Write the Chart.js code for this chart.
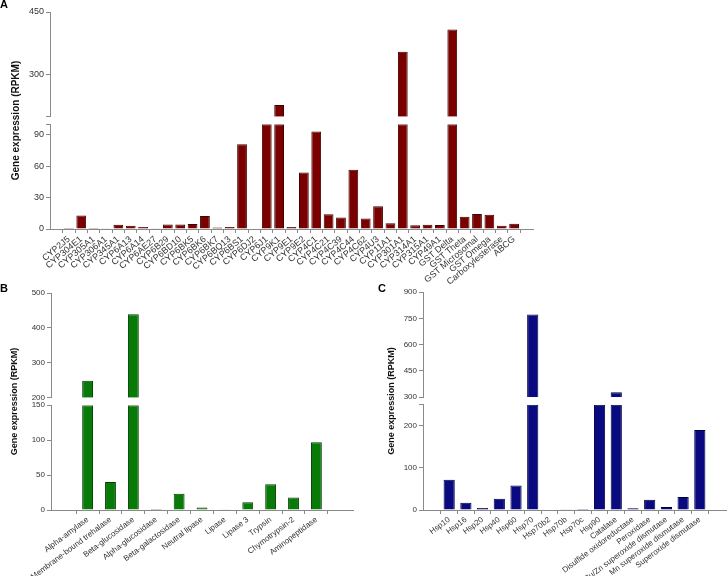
<!DOCTYPE html>
<html>
<head>
<meta charset="utf-8">
<script src="https://cdn.jsdelivr.net/npm/chart.js@4.4.1/dist/chart.umd.min.js"></script>
<style>
  html, body { margin: 0; padding: 0; background: #fff; }
  #lienzo { position: relative; width: 728px; height: 576px; overflow: hidden; }
  .panel { position: absolute; }
  .letra { position: absolute; font: bold 11px "Liberation Sans", Arial, sans-serif; line-height: 11px; color: #000; }
</style>
</head>
<body>
<div id="lienzo">
  <div class="panel" style="left:0;top:0;width:728px;height:290px"><canvas id="graficoA"></canvas></div>
  <div class="panel" style="left:0;top:280px;width:364px;height:296px"><canvas id="graficoB"></canvas></div>
  <div class="panel" style="left:364px;top:280px;width:364px;height:296px"><canvas id="graficoC"></canvas></div>
  <div class="letra" style="left:0;top:-1px">A</div>
  <div class="letra" style="left:0;top:283px">B</div>
  <div class="letra" style="left:378px;top:283px">C</div>
</div>
<script>
// Datos del panel A
var categorias_a = ['CYP2J5', 'CYP304E1', 'CYP305A1', 'CYP306A1', 'CYP345A1', 'CYP6A13', 'CYP6A14', 'CYP6AE27',
  'CYP6B29', 'CYP6BD10', 'CYP6BK5', 'CYP6BK6', 'CYP6BK7', 'CYP6BQ13', 'CYP6BS1', 'CYP6DJ2', 'CYP6J1', 'CYP9K1',
  'CYP9E1', 'CYP9E2', 'CYP4C1', 'CYP4C21', 'CYP4C39', 'CYP4C44', 'CYP4C62', 'CYP4U3', 'CYP11A1', 'CYP301A1',
  'CYP314A1', 'CYP315A1', 'CYP49A1', 'GST Delta', 'GST Theta', 'GST Microsomal', 'GST Omega', 'Carboxylesterase', 'ABCG'];
var valores_a = [1, 13, 0.1, 0.7, 4, 3, 2, 0.7, 4.3, 4.3, 4.8, 12.4, 1.5, 1.8, 81, 0.5, 160, 228,
  2, 54, 93, 14, 11, 56.5, 10, 21.6, 5.4, 355, 3.5, 4, 3.8, 408, 11.7, 14.3, 13.7, 3.2, 5];
var ticks_bajo_a = [0, 30, 60, 90];
var ticks_alto_a = [300, 450];
var corte_a = [100, 200];
var maximo_a = 450;

// Datos del panel B
var categorias_b = ['Alpha-amylase', 'Membrane-bound trehalase', 'Beta-glucosidase', 'Alpha-glucosidase',
  'Beta-galactosidase', 'Neutral lipase', 'Lipase', 'Lipase 3', 'Trypsin', 'Chymotrypsin-2', 'Aminopeptidase'];
var valores_b = [249, 40, 439, 1.5, 23.3, 3.5, 0.2, 11, 37, 18, 97];
var ticks_bajo_b = [0, 50, 100, 150];
var ticks_alto_b = [200, 300, 400, 500];
var corte_b = [150, 200];
var maximo_b = 500;

// Datos del panel C
var categorias_c = ['Hsp10', 'Hsp16', 'Hsp20', 'Hsp40', 'Hsp60', 'Hsp70', 'Hsp70b2', 'Hsp70b', 'Hsp70c', 'Hsp90',
  'Catalase', 'Disulfide oxidoreductase', 'Peroxidase', 'Cu/Zn superoxide dismutase', 'Mn superoxide dismutase',
  'Superoxide dismutase'];
var valores_c = [72, 17.5, 4.7, 27, 58, 772, 1, 1.5, 2.5, 270, 328, 4, 24.6, 7, 31, 190];
var ticks_bajo_c = [0, 100, 200];
var ticks_alto_c = [300, 450, 600, 750, 900];
var corte_c = [250, 300];
var maximo_c = 900;

var fuente = '"Liberation Sans", Arial, sans-serif';
var gris = '#8a8a8a';
var texto = '#333';

// Lista de ticks con el valor del corte incluido (sin repetir)
function unir_ticks(lista, extra) {
  var todos = lista.indexOf(extra) === -1 ? lista.concat([extra]) : lista.slice();
  return todos.sort(function(a, b) { return a - b; }).map(function(v) { return {value: v}; });
}

// Eje y de un tramo (alto o bajo) del eje partido
function eje_tramo(min, max, etiquetas, extra, peso, orden, est) {
  return {
    type: 'linear', position: 'left', stack: 'eje', stackWeight: peso, weight: orden,
    min: min, max: max,
    afterBuildTicks: function(s) { s.ticks = unir_ticks(etiquetas, extra); },
    afterFit: function(s) { s.width = est.ancho_y; },
    ticks: {
      font: {family: fuente, size: est.letra_y}, color: texto, padding: 2,
      callback: function(v) { return etiquetas.indexOf(v) !== -1 ? v : ''; }
    },
    grid: {drawOnChartArea: false, tickLength: 4, color: gris},
    border: {color: gris}
  };
}

function crear_panel(id, categorias, valores, bajo, alto, corte, maximo, est) {
  var bajos = valores.map(function(v, i) { return {x: i, y: Math.min(v, corte[0])}; });
  var altos = valores.map(function(v, i) { return v > corte[1] ? {x: i, y: [corte[1], v]} : null; })
    .filter(function(p) { return p; });
  var comun = {
    grouped: false, backgroundColor: est.color, borderColor: est.borde, borderWidth: 1,
    barPercentage: est.barra, categoryPercentage: 1, xAxisID: 'x'
  };
  return new Chart(document.getElementById(id), {
    type: 'bar',
    data: {
      datasets: [
        Object.assign({data: bajos, yAxisID: 'yBajo'}, comun),
        Object.assign({data: altos, yAxisID: 'yAlto'}, comun)
      ]
    },
    options: {
      responsive: true,
      maintainAspectRatio: false,
      animation: false,
      layout: {padding: est.padding},
      plugins: {legend: {display: false}, tooltip: {enabled: false}},
      scales: {
        x: {
          type: 'linear', min: -1, max: categorias.length,
          afterBuildTicks: function(s) { s.ticks = categorias.map(function(c, i) { return {value: i}; }); },
          afterFit: function(s) { s.height = est.alto_x; },
          ticks: {
            autoSkip: false, minRotation: est.giro, maxRotation: est.giro, padding: 1,
            font: {family: fuente, size: est.letra_x}, color: texto,
            callback: function(v) { return categorias[v]; }
          },
          grid: {drawOnChartArea: false, tickLength: 4, color: gris},
          border: {color: gris}
        },
        yAlto: eje_tramo(corte[1], maximo, alto, corte[1], 14, 3, est),
        yHueco: {
          type: 'linear', position: 'left', stack: 'eje', stackWeight: 1, weight: 2,
          min: 0, max: 1,
          afterFit: function(s) { s.width = est.ancho_y; },
          ticks: {display: false},
          grid: {display: false},
          border: {display: false},
          title: {
            display: true, text: 'Gene expression (RPKM)', color: '#111', padding: 0,
            font: {family: fuente, size: est.titulo, weight: 'bold'}
          }
        },
        yBajo: eje_tramo(0, corte[0], bajo, corte[0], 14, 1, est)
      }
    }
  });
}

crear_panel('graficoA', categorias_a, valores_a, ticks_bajo_a, ticks_alto_a, corte_a, maximo_a, {
  color: '#7a0000', borde: '#420000', barra: 0.79, ancho_y: 40, alto_x: 61, titulo: 10,
  letra_x: 9, letra_y: 9, giro: 40,
  padding: {left: 10, top: 12, right: 195, bottom: 0}
});
crear_panel('graficoB', categorias_b, valores_b, ticks_bajo_b, ticks_alto_b, corte_b, maximo_b, {
  color: '#087a08', borde: '#033d03', barra: 0.475, ancho_y: 42, alto_x: 66, titulo: 9,
  letra_x: 8, letra_y: 8, giro: 37,
  padding: {left: 9, top: 13, right: 11, bottom: 0}
});
crear_panel('graficoC', categorias_c, valores_c, ticks_bajo_c, ticks_alto_c, corte_c, maximo_c, {
  color: '#0a0a80', borde: '#000045', barra: 0.67, ancho_y: 37, alto_x: 66, titulo: 9,
  letra_x: 8, letra_y: 8, giro: 37,
  padding: {left: 22, top: 12, right: 2, bottom: 0}
});
</script>
</body>
</html>
